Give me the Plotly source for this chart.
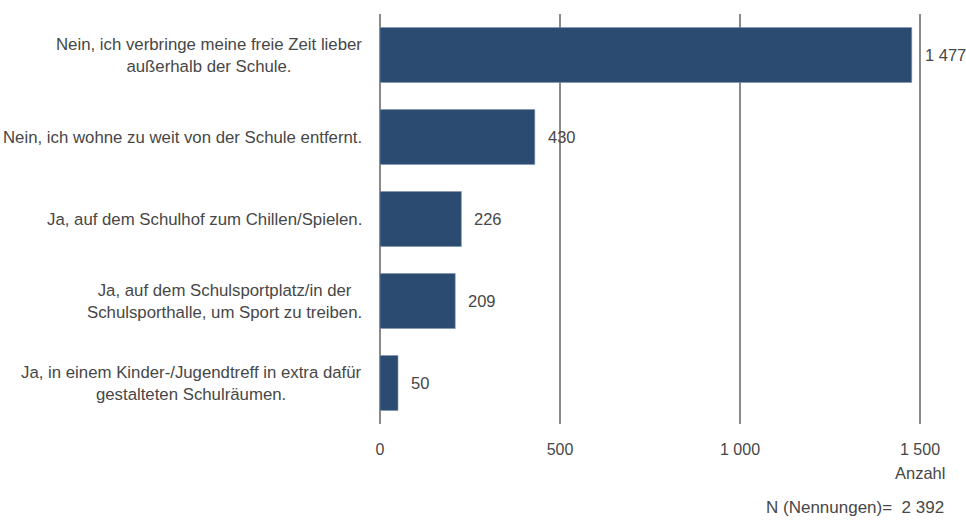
import plotly.graph_objects as go

categories = [
    "Nein, ich verbringe meine freie Zeit lieber<br>außerhalb der Schule.",
    "Nein, ich wohne zu weit von der Schule entfernt.",
    "Ja, auf dem Schulhof zum Chillen/Spielen.",
    "Ja, auf dem Schulsportplatz/in der<br>Schulsporthalle, um Sport zu treiben.",
    "Ja, in einem Kinder-/Jugendtreff in extra dafür<br>gestalteten Schulräumen.",
]
values = [1477, 430, 226, 209, 50]
tick_vals = [0, 500, 1000, 1500]
axis_title = "Anzahl"
n_label = "N (Nennungen)="

def fmt(v):
    return f"{v:,}".replace(",", " ")

FONT = "Liberation Sans, Arial, sans-serif"
TXT = "#474747"
BAR = "#2B4B71"
GRID = "#8A8A8A"

fig = go.Figure()
fig.add_trace(go.Bar(
    y=categories, x=values, orientation="h",
    marker=dict(color=BAR, line=dict(color="#7F93AD", width=0.6)),
    width=0.67, hoverinfo="x+y",
))

annotations = []
for c, v in zip(categories, values):
    annotations.append(dict(
        x=v, y=c, xref="x", yref="y", text=fmt(v), showarrow=False,
        xanchor="left", yanchor="middle", xshift=11,
        font=dict(family=FONT, size=16.5, color=TXT),
    ))
    annotations.append(dict(
        x=0, y=c, xref="paper", yref="y", text=c, showarrow=False,
        xanchor="right", yanchor="middle", xshift=-14, align="center",
        font=dict(family=FONT, size=16.8, color=TXT),
    ))
annotations.append(dict(
    x=1, y=0, xref="paper", yref="paper", text=axis_title, showarrow=False,
    xanchor="center", yanchor="top", yshift=-38, xshift=-2,
    font=dict(family=FONT, size=16.5, color=TXT),
))
annotations.append(dict(
    x=1, y=0, xref="paper", yref="paper",
    text=f"{n_label}&nbsp;&nbsp;{fmt(sum(values))}", showarrow=False,
    xanchor="right", yanchor="top", yshift=-72, xshift=24,
    font=dict(family=FONT, size=17, color=TXT),
))

fig.update_layout(
    width=966, height=521,
    margin=dict(l=378, r=44, t=14, b=97),
    plot_bgcolor="white", paper_bgcolor="white",
    separators=", ",
    showlegend=False,
    annotations=annotations,
    xaxis=dict(
        range=[-5.5, 1505.5], tickvals=tick_vals, tickformat=",d",
        showgrid=True, gridcolor=GRID, gridwidth=2,
        zeroline=True, zerolinecolor=GRID, zerolinewidth=2, showline=False,
        tickfont=dict(family=FONT, size=16, color=TXT),
        ticks="", ticklen=0, ticklabelstandoff=14,
    ),
    yaxis=dict(
        autorange="reversed", showticklabels=False, showgrid=False,
        zeroline=False, showline=False, ticks="",
    ),
)

fig.write_html("out.html", config={"displayModeBar": False},
               post_script="document.body.style.margin='0';")
